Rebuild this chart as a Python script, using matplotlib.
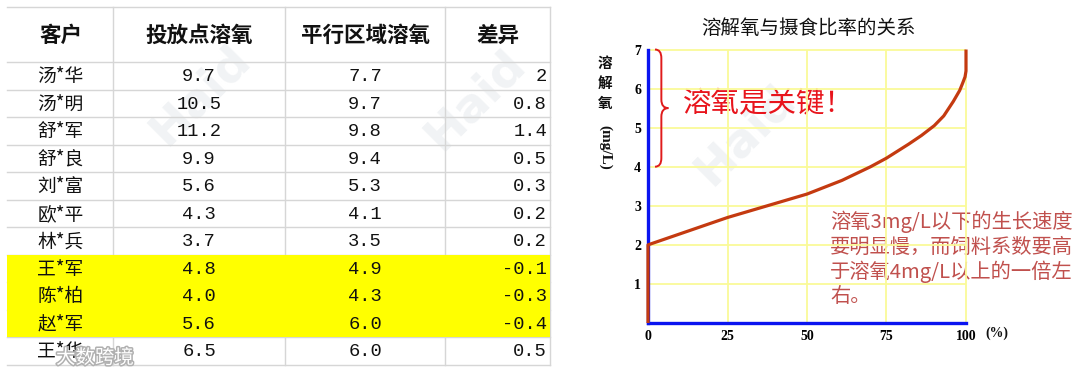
import numpy as np
import matplotlib
matplotlib.use("Agg")
import matplotlib.pyplot as plt
from matplotlib.patches import Rectangle
from matplotlib.path import Path
from matplotlib.patches import PathPatch
import matplotlib.patheffects as pe

CJK = ["Noto Sans CJK SC", "DejaVu Sans"]
plt.rcParams["font.family"] = CJK

# ---- table data ----
headers = ["客户", "投放点溶氧", "平行区域溶氧", "差异"]
customers = ["汤*华", "汤*明", "舒*军", "舒*良", "刘*富", "欧*平", "林*兵",
             "王*军", "陈*柏", "赵*军", "王*华"]
release_do = [9.7, 10.5, 11.2, 9.9, 5.6, 4.3, 3.7, 4.8, 4.0, 5.6, 6.5]
parallel_do = [7.7, 9.7, 9.8, 9.4, 5.3, 4.1, 3.5, 4.9, 4.3, 6.0, 6.0]
diff = [2, 0.8, 1.4, 0.5, 0.3, 0.2, 0.2, -0.1, -0.3, -0.4, 0.5]
highlight = [7, 8, 9]

# ---- chart data (DO vs feeding ratio) ----
curve_x = [0, 0, 25, 50, 61, 70, 75, 82, 86, 90, 93, 96, 98, 99, 99.7, 100, 100]
curve_y = [0, 2, 2.7, 3.3, 3.65, 4.0, 4.22, 4.58, 4.8, 5.05, 5.3, 5.67, 5.95,
           6.15, 6.3, 6.45, 7]
xticks = [0, 25, 50, 75, 100]
yticks = [1, 2, 3, 4, 5, 6, 7]

W, H = 1080, 378
fig = plt.figure(figsize=(W / 100, H / 100), dpi=100)
fig.patch.set_facecolor("white")

# background axes in pixel coordinates (table + watermarks)
bg = fig.add_axes([0, 0, 1, 1])
bg.set_xlim(0, W)
bg.set_ylim(H, 0)
bg.axis("off")

# faint watermarks
for cx, cy in [(200, 95), (475, 100), (745, 135)]:
    bg.text(cx, cy, "Haid", rotation=45, fontsize=34, fontweight="bold",
            color="#f1f3f5", ha="center", va="center", zorder=0,
            family="DejaVu Sans")

# ---- table ----
col_edges = [8, 113, 285, 445, 550]
top, head_h, row_h = 7, 55, 27.5
row0 = top + head_h
n = len(customers)
bottom = row0 + n * row_h
LINE = "#d6d6d6"

bg.plot([col_edges[0] - 1, col_edges[-1]], [top, top], color=LINE, lw=1.0, zorder=1)
for i in range(n + 1):
    y = row0 + i * row_h
    bg.plot([col_edges[0] - 1, col_edges[-1]], [y, y], color=LINE, lw=1.0, zorder=1)
for x in col_edges[1:]:
    bg.plot([x, x], [top, bottom], color=LINE, lw=1.0, zorder=1)

y0 = row0 + highlight[0] * row_h
bg.add_patch(Rectangle((col_edges[0] - 1, y0), col_edges[-1] - col_edges[0] + 1,
                       len(highlight) * row_h, color="#ffff00", lw=0, zorder=2))

centers = [(col_edges[k] + col_edges[k + 1]) / 2 for k in range(4)]
for k, h in enumerate(headers):
    bg.text(centers[k], top + head_h / 2 + 1, h, fontsize=15.5, fontweight="bold",
            ha="center", va="center", color="#111111", zorder=3)

for i in range(n):
    yc = row0 + (i + 0.5) * row_h + 1
    bg.text(centers[0], yc, customers[i], fontsize=13.5, ha="center", va="center",
            color="#111111", zorder=3)
    bg.text(centers[1], yc, f"{release_do[i]:.1f}", fontsize=13.5, ha="center",
            va="center", family="Liberation Mono", color="#111111", zorder=3)
    bg.text(centers[2], yc, f"{parallel_do[i]:.1f}", fontsize=13.5, ha="center",
            va="center", family="Liberation Mono", color="#111111", zorder=3)
    bg.text(col_edges[4] - 3, yc, f"{diff[i]:g}", fontsize=13.5, ha="right",
            va="center", family="Liberation Mono", color="#111111", zorder=3)

bg.text(95, 358, "大数跨境", fontsize=14, color="white", ha="center", va="center",
        zorder=4, path_effects=[pe.withStroke(linewidth=2.2, foreground="#b0b0b0")])

# ---- chart ----
ax_l, ax_r, ax_t, ax_b = 648, 966, 49.5, 323
ax = fig.add_axes([ax_l / W, 1 - ax_b / H, (ax_r - ax_l) / W, (ax_b - ax_t) / H])
ax.patch.set_alpha(0)
ax.set_xlim(0, 100)
ax.set_ylim(0, 7)

GRID = "#fafa98"
ax.vlines(xticks[1:], 0, 7, color=GRID, lw=1.3, clip_on=False, zorder=1)
ax.hlines(yticks, 0, 100, color=GRID, lw=1.3, clip_on=False, zorder=1)

for s in ("top", "right"):
    ax.spines[s].set_visible(False)
for s in ("left", "bottom"):
    ax.spines[s].set_color("#0a14f0")
    ax.spines[s].set_linewidth(2.4)
    ax.spines[s].set_zorder(4)

ax.plot(curve_x, curve_y, color="#c43a10", lw=2.3, solid_joinstyle="round",
        solid_capstyle="butt", zorder=5, clip_on=False)

ax.set_xticks(xticks)
ax.set_yticks(yticks)
ax.set_xticklabels([str(v) for v in xticks])
ax.set_yticklabels([str(v) for v in yticks])
ax.tick_params(length=0, labelsize=10, pad=5)
for lbl in ax.get_xticklabels() + ax.get_yticklabels():
    lbl.set_family("Liberation Serif")
    lbl.set_fontweight("bold")

# curly brace marking DO 4-7
bx0, xm, bx1, ytop, ybot = 2.2, 4.2, 6.4, 7.0, 4.0
ymid = (ytop + ybot) / 2
r = 0.22
verts = [(bx0, ytop), (xm, ytop), (xm, ytop - r),
         (xm, ymid + r), (xm, ymid), (bx1, ymid),
         (bx1, ymid), (xm, ymid), (xm, ymid - r),
         (xm, ybot + r), (xm, ybot), (bx0, ybot)]
codes = [Path.MOVETO, Path.CURVE3, Path.CURVE3,
         Path.LINETO, Path.CURVE3, Path.CURVE3,
         Path.MOVETO, Path.CURVE3, Path.CURVE3,
         Path.LINETO, Path.CURVE3, Path.CURVE3]
ax.add_patch(PathPatch(Path(verts, codes), fill=False, edgecolor="#e01b1b",
                       lw=1.4, zorder=6, clip_on=False))

bg.text(768, 103, "溶氧是关键！", fontsize=20.5, color="#e8141c", ha="center",
        va="center", zorder=6)

# titles / labels
bg.text(809, 28, "溶解氧与摄食比率的关系", fontsize=14, color="#111111",
        ha="center", va="center")
for k, ch in enumerate("溶解氧"):
    bg.text(605, 63 + k * 20, ch, fontsize=10.5, fontweight="bold", ha="center",
            va="center", color="#111111")
bg.text(605, 147, "(mg/L)", rotation=-90, fontsize=11, fontweight="bold",
        family="Liberation Serif", ha="center", va="center", color="#111111")
bg.text(997, 333, "(%)", fontsize=10, fontweight="bold", family="Liberation Serif",
        ha="center", va="center", color="#111111")

note_lines = ["溶氧3mg/L以下的生长速度", "要明显慢，而饲料系数要高",
              "于溶氧4mg/L以上的一倍左", "右。"]
for k, line in enumerate(note_lines):
    bg.text(830, 222 + k * 25, line, fontsize=14.6, color="#c0504d", ha="left",
            va="center", zorder=6)

fig.savefig("out.png", dpi=100, facecolor="white")
